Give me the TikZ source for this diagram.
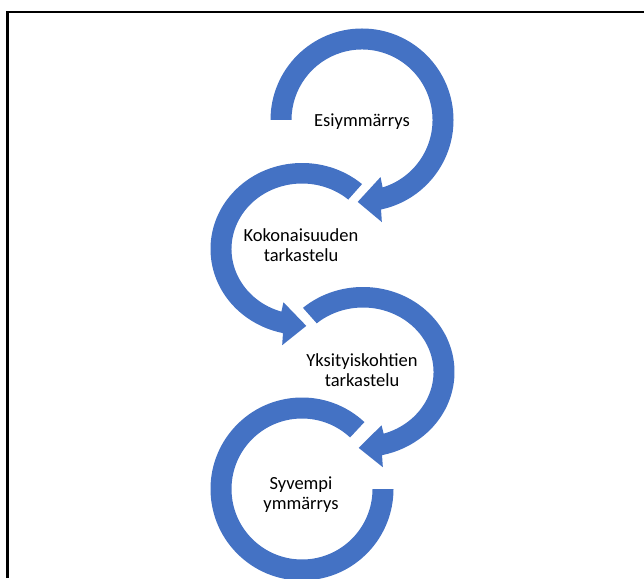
\documentclass[tikz,border=0pt]{standalone}
\usepackage{fontspec}
\setmainfont{Carlito}
\usepackage{tikz}
\definecolor{ringblue}{HTML}{4472C4}

\begin{document}
\begin{tikzpicture}[x=1pt, y=1pt,
    ring/.style={fill=ringblue},
    phase/.style={align=center, font=\fontsize{18.5}{20}\selectfont, text=black}]
                \useasboundingbox (0,0) rectangle (644,578);
                \draw[line width=2.5pt] (7.5,0) -- (7.5,566) -- (644,566);
                \coordinate (c1) at (362,458);
                \coordinate (c2) at (302,329);
                \coordinate (c3) at (363,206);
                \coordinate (c4) at (302,89);
                \fill[ring] ([shift={(180:91.5)}]c1) arc[start angle=180, end angle=-78, radius=91.5]
                    -- ([shift={(-79:104)}]c1) -- ([shift={(-93:82)}]c1) -- ([shift={(-72:60)}]c1)
                    -- ([shift={(-73:70.5)}]c1) arc[start angle=-73, end angle=180, radius=70.5] -- cycle;
                \fill[ring] ([shift={(49:91.5 and 86)}]c2) arc[start angle=49, end angle=258, x radius=91.5, y radius=86]
                    -- ([shift={(259:104 and 98)}]c2) -- ([shift={(273:82 and 77)}]c2) -- ([shift={(252:60 and 56)}]c2)
                    -- ([shift={(253:70.5 and 65.5)}]c2) arc[start angle=253, end angle=49, x radius=70.5, y radius=65.5] -- cycle;
                \fill[ring] ([shift={(131:91.5 and 85)}]c3) arc[start angle=131, end angle=-78, x radius=91.5, y radius=85]
                    -- ([shift={(-79:104 and 97)}]c3) -- ([shift={(-93:82 and 76)}]c3) -- ([shift={(-72:60 and 56)}]c3)
                    -- ([shift={(-73:70.5 and 64.5)}]c3) arc[start angle=-73, end angle=131, x radius=70.5, y radius=64.5] -- cycle;
                \fill[ring] ([shift={(47:91.5)}]c4) arc[start angle=47, end angle=360, radius=91.5]
                    -- ([shift={(0:70.5)}]c4) arc[start angle=360, end angle=47, radius=70.5] -- cycle;
                \node[phase] (esi) at (362,456) {Esiymmärrys};
                \node[phase] (koko) at (301,332.5) {Kokonaisuuden\\tarkastelu};
                \node[phase] (yksi) at (362,207.5) {Yksityiskohtien\\tarkastelu};
                \node[phase] (syv) at (301,83.5) {Syvempi\\ymmärrys};
            \end{tikzpicture}
\end{document}
